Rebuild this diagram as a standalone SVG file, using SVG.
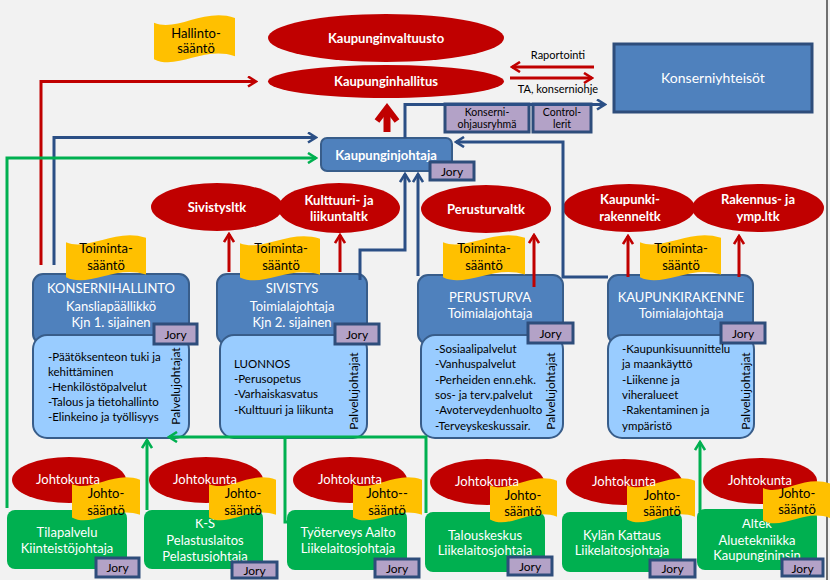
<svg xmlns="http://www.w3.org/2000/svg" xmlns:xlink="http://www.w3.org/1999/xlink" width="830" height="580" viewBox="0 0 830 580">
<style>
text{font-family:Lato,"Liberation Sans",sans-serif;text-anchor:middle}
.w{fill:#fff}
.k{fill:#000}
.b{font-weight:bold}
.l{text-anchor:start}
.re{fill:#C00000}
.bb{fill:#4F81BD;stroke:#385D8A;stroke-width:2}
.lb{fill:#99CCFF;stroke:#385D8A;stroke-width:2}
.jr{fill:#B3A2C7;stroke:#2E4D7B;stroke-width:3}
.gb{fill:#00B050}
.fl{fill:#FFC000}
.cb{fill:none;stroke:#2B4F85;stroke-width:3}
.cr{fill:none;stroke:#C00000;stroke-width:3}
.cg{fill:none;stroke:#00B050;stroke-width:3}
.f13{font-size:13px}
.f12{font-size:12px}
.f11{font-size:11px}
.f10{font-size:10.5px}
.f115{font-size:11.5px}
.f14{font-size:14px}
</style>
<defs>
<path id="wave" d="M0,16 C28,36 62,-16 100,6 L100,86 C62,64 28,116 0,92 Z"/>
<marker id="ab" viewBox="0 0 12 12" refX="10" refY="6" markerWidth="12" markerHeight="12" markerUnits="userSpaceOnUse" orient="auto"><path d="M2,1 L10,6 L2,11" fill="none" stroke="#2B4F85" stroke-width="2.6"/></marker>
<marker id="ar" viewBox="0 0 12 12" refX="10" refY="6" markerWidth="12" markerHeight="12" markerUnits="userSpaceOnUse" orient="auto"><path d="M2,1 L10,6 L2,11" fill="none" stroke="#C00000" stroke-width="2.6"/></marker>
<marker id="ag" viewBox="0 0 12 12" refX="10" refY="6" markerWidth="12" markerHeight="12" markerUnits="userSpaceOnUse" orient="auto"><path d="M2,1 L10,6 L2,11" fill="none" stroke="#00B050" stroke-width="2.6"/></marker>
<clipPath id="clip2"><rect x="144" y="519" width="119" height="43"/></clipPath>
<clipPath id="clip6"><rect x="697" y="519" width="120" height="43"/></clipPath>
</defs>
<rect width="830" height="580" fill="#F2F2F2"/>
<rect x="826" y="0" width="2" height="580" fill="#707070"/>

<g id="hallintosaanto">
<use href="#wave" class="fl" transform="translate(154,15) scale(0.81,0.48)"/>
<text x="196" y="38" class="k f13">Hallinto-</text>
<text x="196" y="53" class="k f13">sääntö</text>
</g>
<g id="kaupunginvaltuusto">
<ellipse cx="386" cy="38" rx="118" ry="24" class="re"/>
<text x="386" y="43" class="w b f13">Kaupunginvaltuusto</text>
</g>
<g id="kaupunginhallitus">
<ellipse cx="386" cy="81.5" rx="118" ry="16.5" class="re"/>
<text x="386" y="86" class="w b f13">Kaupunginhallitus</text>
</g>
<g id="konserniyhteisot">
<rect x="614" y="44" width="198" height="68" fill="#4F81BD" stroke="#2E4D7B" stroke-width="3"/>
<text x="713" y="83" class="w f14">Konserniyhteisöt</text>
</g>
<g id="konserniohjausryhma">
<rect x="445" y="104" width="84" height="28" class="jr"/>
<text x="487" y="116" class="k f10">Konserni-</text>
<text x="487" y="127.5" class="k f10">ohjausryhmä</text>
</g>
<g id="controllerit">
<rect x="533" y="104" width="58" height="28" class="jr"/>
<text x="562" y="116" class="k f10">Control-</text>
<text x="562" y="127.5" class="k f10">lerit</text>
</g>
<g id="kaupunginjohtaja">
<rect x="321" y="138" width="131" height="33" rx="6" class="bb"/>
<text x="386" y="160" class="w b f13">Kaupunginjohtaja</text>
<rect x="430" y="162" width="44" height="18" class="jr"/>
<text x="452" y="175.5" class="k f12">Jory</text>
</g>

<g id="sivistysltk">
<ellipse cx="217" cy="207" rx="66" ry="24" class="re"/>
<text x="217" y="212" class="w b f13">Sivistysltk</text>
</g>
<g id="kulttuuriltk">
<ellipse cx="339" cy="208" rx="61" ry="25" class="re"/>
<text x="339" y="205" class="w b f13">Kulttuuri- ja</text>
<text x="339" y="221" class="w b f13">liikuntaltk</text>
</g>
<g id="perusturvaltk">
<ellipse cx="486" cy="209" rx="65" ry="24" class="re"/>
<text x="486" y="214" class="w b f13">Perusturvaltk</text>
</g>
<g id="kaupunkirakenneltk">
<ellipse cx="629" cy="208" rx="66" ry="24" class="re"/>
<text x="630" y="204" class="w b f13">Kaupunki-</text>
<text x="630" y="221" class="w b f13">rakenneltk</text>
</g>
<g id="rakennusltk">
<ellipse cx="758" cy="208" rx="66" ry="24" class="re"/>
<text x="758" y="204" class="w b f13">Rakennus- ja</text>
<text x="758" y="221" class="w b f13">ymp.ltk</text>
</g>

<g id="konsernihallinto">
<rect x="33" y="274" width="156" height="70" rx="10" class="bb"/>
<use href="#wave" class="fl" transform="translate(66,235) scale(0.80,0.46)"/>
<text x="106" y="253" class="k f13">Toiminta-</text>
<text x="106" y="270" class="k f13">sääntö</text>
<text x="111" y="293" class="w f13">KONSERNIHALLINTO</text>
<text x="111" y="311" class="w f13">Kansliapäällikkö</text>
<text x="111" y="327" class="w f13">Kjn 1. sijainen</text>
<rect x="33" y="335" width="156" height="103" rx="14" class="lb"/>
<rect x="154" y="324" width="43" height="20" class="jr"/>
<text x="175.5" y="338.5" class="k f12">Jory</text>
<text x="48" y="361" class="k f115 l">-Päätöksenteon tuki ja</text>
<text x="48" y="376" class="k f115 l">kehittäminen</text>
<text x="48" y="391" class="k f115 l">-Henkilöstöpalvelut</text>
<text x="48" y="406" class="k f115 l">-Talous ja tietohallinto</text>
<text x="48" y="421" class="k f115 l">-Elinkeino ja työllisyys</text>
<text transform="translate(180,386) rotate(-90)" class="k f12">Palvelujohtajat</text>
</g>

<g id="sivistys">
<rect x="217" y="274" width="150" height="70" rx="10" class="bb"/>
<use href="#wave" class="fl" transform="translate(240,236) scale(0.80,0.45)"/>
<text x="281" y="253" class="k f13">Toiminta-</text>
<text x="281" y="270" class="k f13">sääntö</text>
<text x="292" y="293" class="w f13">SIVISTYS</text>
<text x="292" y="311" class="w f13">Toimialajohtaja</text>
<text x="292" y="327" class="w f13">Kjn 2. sijainen</text>
<rect x="220" y="335" width="147" height="103" rx="14" class="lb"/>
<rect x="335" y="324" width="44" height="20" class="jr"/>
<text x="357" y="338.5" class="k f12">Jory</text>
<text x="234" y="368" class="k f115 l">LUONNOS</text>
<text x="234" y="383" class="k f115 l">-Perusopetus</text>
<text x="234" y="398" class="k f115 l">-Varhaiskasvatus</text>
<text x="234" y="414" class="k f115 l">-Kulttuuri ja liikunta</text>
<text transform="translate(358,391) rotate(-90)" class="k f12">Palvelujohtajat</text>
</g>

<g id="perusturva">
<rect x="418" y="275" width="145" height="69" rx="10" class="bb"/>
<use href="#wave" class="fl" transform="translate(443,235) scale(0.82,0.46)"/>
<text x="484" y="253" class="k f13">Toiminta-</text>
<text x="484" y="270" class="k f13">sääntö</text>
<text x="490" y="302" class="w f13">PERUSTURVA</text>
<text x="490" y="318" class="w f13">Toimialajohtaja</text>
<rect x="421" y="335" width="142" height="103" rx="14" class="lb"/>
<rect x="528" y="323" width="45" height="20" class="jr"/>
<text x="550.5" y="337.5" class="k f12">Jory</text>
<text x="435" y="353" class="k f115 l">-Sosiaalipalvelut</text>
<text x="435" y="368" class="k f115 l">-Vanhuspalvelut</text>
<text x="435" y="384" class="k f115 l">-Perheiden enn.ehk.</text>
<text x="435" y="399" class="k f115 l">sos- ja terv.palvelut</text>
<text x="435" y="414" class="k f115 l">-Avoterveydenhuolto</text>
<text x="435" y="430" class="k f115 l">-Terveyskeskussair.</text>
<text transform="translate(555,391) rotate(-90)" class="k f12">Palvelujohtajat</text>
</g>

<g id="kaupunkirakenne">
<rect x="608" y="275" width="145" height="69" rx="10" class="bb"/>
<use href="#wave" class="fl" transform="translate(640,235) scale(0.81,0.46)"/>
<text x="681" y="253" class="k f13">Toiminta-</text>
<text x="681" y="270" class="k f13">sääntö</text>
<text x="681" y="302" class="w f13">KAUPUNKIRAKENNE</text>
<text x="681" y="318" class="w f13">Toimialajohtaja</text>
<rect x="608" y="335" width="146" height="103" rx="14" class="lb"/>
<rect x="721" y="323" width="44" height="20" class="jr"/>
<text x="743" y="337.5" class="k f12">Jory</text>
<text x="622" y="353" class="k f115 l">-Kaupunkisuunnittelu</text>
<text x="622" y="368" class="k f115 l">ja maankäyttö</text>
<text x="622" y="384" class="k f115 l">-Liikenne ja</text>
<text x="622" y="399" class="k f115 l">viheralueet</text>
<text x="622" y="414" class="k f115 l">-Rakentaminen ja</text>
<text x="622" y="430" class="k f115 l">ympäristö</text>
<text transform="translate(750,391) rotate(-90)" class="k f12">Palvelujohtajat</text>
</g>

<g id="tilapalvelu">
<ellipse cx="69" cy="480" rx="57" ry="23" class="re"/>
<rect x="7" y="510" width="120" height="59" rx="8" class="gb"/>
<text x="67" y="537" class="w f13">Tilapalvelu</text>
<text x="67" y="553" class="w f13">Kiinteistöjohtaja</text>
<use href="#wave" class="fl" transform="translate(72,477) scale(0.68,0.44)"/>
<text x="68" y="484" class="w f13">Johtokunta</text>
<text x="106" y="498" class="k f13">Johto-</text>
<text x="106" y="515" class="k f13">sääntö</text>
<rect x="96" y="558" width="43" height="19" class="jr"/>
<text x="117.5" y="572" class="k f12">Jory</text>
</g>

<g id="pelastuslaitos">
<ellipse cx="206" cy="480" rx="57" ry="23" class="re"/>
<rect x="144" y="510" width="119" height="59" rx="8" class="gb"/>
<g clip-path="url(#clip2)">
<text x="205" y="528" class="w f13">K-S</text>
<text x="205" y="545" class="w f13">Pelastuslaitos</text>
<text x="205" y="561" class="w f13">Pelastusjohtaja</text>
</g>
<use href="#wave" class="fl" transform="translate(209,477) scale(0.67,0.44)"/>
<text x="205" y="484" class="w f13">Johtokunta</text>
<text x="243" y="498" class="k f13">Johto-</text>
<text x="243" y="515" class="k f13">sääntö</text>
<rect x="232" y="562" width="45" height="16" class="jr"/>
<text x="254.5" y="575" class="k f12">Jory</text>
</g>

<g id="tyoterveys">
<ellipse cx="350" cy="480" rx="57" ry="23" class="re"/>
<rect x="287" y="510" width="120" height="60" rx="8" class="gb"/>
<text x="348" y="537" class="w f13">Työterveys Aalto</text>
<text x="348" y="553" class="w f13">Liikelaitosjohtaja</text>
<use href="#wave" class="fl" transform="translate(353,477) scale(0.69,0.44)"/>
<text x="350" y="484" class="w f13">Johtokunta</text>
<text x="387" y="498" class="k f13">Johto--</text>
<text x="387" y="515" class="k f13">sääntö</text>
<rect x="375" y="559" width="44" height="18" class="jr"/>
<text x="397" y="572.5" class="k f12">Jory</text>
</g>

<g id="talouskeskus">
<ellipse cx="487" cy="482" rx="57" ry="23" class="re"/>
<rect x="425" y="512" width="120" height="60" rx="8" class="gb"/>
<text x="485" y="540" class="w f13">Talouskeskus</text>
<text x="485" y="555" class="w f13">Liikelaitosjohtaja</text>
<use href="#wave" class="fl" transform="translate(490,478) scale(0.67,0.45)"/>
<text x="487" y="486" class="w f13">Johtokunta</text>
<text x="523" y="500" class="k f13">Johto-</text>
<text x="523" y="516" class="k f13">sääntö</text>
<rect x="508" y="557" width="44" height="18" class="jr"/>
<text x="530" y="570.5" class="k f12">Jory</text>
</g>

<g id="kylankattaus">
<ellipse cx="624" cy="482" rx="58" ry="23" class="re"/>
<rect x="562" y="512" width="120" height="60" rx="8" class="gb"/>
<text x="622" y="540" class="w f13">Kylän Kattaus</text>
<text x="622" y="555" class="w f13">Liikelaitosjohtaja</text>
<use href="#wave" class="fl" transform="translate(627,478) scale(0.68,0.45)"/>
<text x="624" y="486" class="w f13">Johtokunta</text>
<text x="662" y="500" class="k f13">Johto-</text>
<text x="662" y="516" class="k f13">sääntö</text>
<rect x="650" y="560" width="45" height="17" class="jr"/>
<text x="672.5" y="573" class="k f12">Jory</text>
</g>

<g id="altek">
<ellipse cx="760" cy="481" rx="57" ry="23" class="re"/>
<rect x="697" y="509" width="120" height="61" rx="8" class="gb"/>
<g clip-path="url(#clip6)">
<text x="757" y="528" class="w f13">Altek</text>
<text x="757" y="545" class="w f13">Aluetekniikka</text>
<text x="757" y="560" class="w f13">Kaupungininsin</text>
</g>
<use href="#wave" class="fl" transform="translate(763,481) scale(0.67,0.43)"/>
<text x="760" y="485" class="w f13">Johtokunta</text>
<text x="797" y="498" class="k f13">Johto-</text>
<text x="797" y="514" class="k f13">sääntö</text>
<rect x="782" y="559" width="41" height="17" class="jr"/>
<text x="802.5" y="572.5" class="k f12">Jory</text>
</g>

<g id="connectors">
<path class="cr" d="M41,265 V81.5 H256" marker-end="url(#ar)"/>
<path class="cb" d="M54,265 V137.5 H316" marker-end="url(#ab)"/>
<path class="cg" d="M7,508 V158 H316" marker-end="url(#ag)"/>
<path d="M387,132 V110" fill="none" stroke="#C00000" stroke-width="7"/>
<path d="M377,121 L387,108 L397,121" fill="none" stroke="#C00000" stroke-width="6"/>
<path class="cb" d="M405,138 V104.5 H605" marker-end="url(#ab)"/>
<path class="cb" d="M608,277 H563 V142 H456" marker-end="url(#ab)"/>
<path class="cb" d="M360,280 V250 H405 V174" marker-end="url(#ab)"/>
<path class="cb" d="M418,276 V174" marker-end="url(#ab)"/>
<path class="cr" d="M594,67 H512" marker-end="url(#ar)"/>
<path class="cr" d="M510,78 H592" marker-end="url(#ar)"/>
<text x="558" y="59" class="k f11">Raportointi</text>
<text x="558" y="93" class="k f11">TA, konserniohje</text>
<path class="cr" d="M229,272 V234" marker-end="url(#ar)"/>
<path class="cr" d="M340,272 V235" marker-end="url(#ar)"/>
<path class="cr" d="M534,287 V235" marker-end="url(#ar)"/>
<path class="cr" d="M628,277 V236" marker-end="url(#ar)"/>
<path class="cr" d="M739,277 V236" marker-end="url(#ar)"/>
<path class="cg" d="M147,510 V440" marker-end="url(#ag)"/>
<path class="cg" d="M290,522 H285 V437"/>
<path class="cg" d="M426,513 V437 H169" marker-end="url(#ag)"/>
<path class="cg" d="M700,512 V442" marker-end="url(#ag)"/>
</g>
</svg>
